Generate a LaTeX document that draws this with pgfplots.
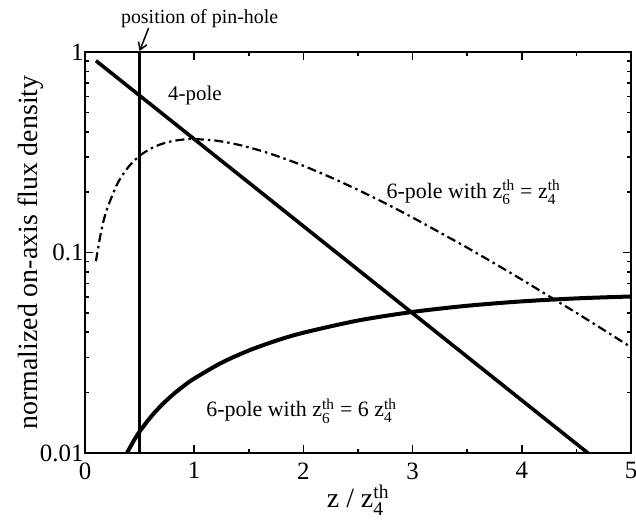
\documentclass[border=0pt]{standalone}
\usepackage{fontspec}
\setmainfont{Liberation Serif}
\usepackage{amsmath}
\usepackage{pgfplots}
\pgfplotsset{compat=1.18}
\usetikzlibrary{arrows.meta}
\newcommand{\zz}[1]{$\text{z}^{\text{th}}_{\text{#1}}$}

\begin{document}
\begin{tikzpicture}
\begin{axis}[
  scale only axis, width=546bp, height=401bp,
  xmin=0, xmax=5, ymin=0.01, ymax=1, ymode=log,
  clip mode=individual,
  xtick={0,1,2,3,4,5}, minor xtick={0.5,1.5,2.5,3.5,4.5},
  ytick={0.01,0.1,1}, yticklabels={0.01,0.1,1},
  minor ytick={0.02,0.03,0.04,0.05,0.06,0.07,0.08,0.09,0.2,0.3,0.4,0.5,0.6,0.7,0.8,0.9},
  tick align=inside, xtick pos=both, ytick pos=both,
  major tick length=8bp, minor tick length=4bp,
  axis line style={line width=2bp},
  every tick/.style={line width=1.6bp, black},
  tick label style={font=\fontsize{25}{27}\selectfont},
  /pgf/number format/assume math mode=true,
  xticklabel style={yshift=-6bp},
  yticklabel style={xshift=2bp},
  xlabel={z / \zz{4}}, ylabel={normalized on-axis flux density},
  label style={font=\fontsize{28}{30}\selectfont},
  xlabel style={yshift=1bp},
  ylabel style={yshift=-10bp},
]
% 4-pole: straight line on log scale
\addplot[black, line width=3.6bp] coordinates {(0.1,0.9048) (4.605,0.01)};
% 6-pole with z6 = z4 (dash-dot)
\addplot[black, line width=2.2bp, smooth, dash pattern=on 9bp off 4bp on 2.5bp off 4bp] coordinates {
(0.1,0.0905) (0.15,0.1291) (0.2,0.1637) (0.3,0.2222) (0.4,0.2681) (0.5,0.3033)
(0.6,0.3293) (0.7,0.3476) (0.8,0.3595) (0.9,0.3659) (1.0,0.3679) (1.2,0.3614)
(1.4,0.3452) (1.6,0.3230) (1.8,0.2975) (2.0,0.2707) (2.25,0.2371) (2.5,0.2052)
(2.75,0.1760) (3.0,0.1494) (3.25,0.1258) (3.5,0.1057) (3.75,0.0882) (4.0,0.0733)
(4.25,0.0605) (4.5,0.0500) (4.75,0.0411) (5.0,0.0337)};
% 6-pole with z6 = 6 z4 (thick solid)
\addplot[black, line width=4bp, smooth] coordinates {
(0.384,0.0100) (0.45,0.01160) (0.5,0.01278) (0.6,0.01508) (0.7,0.01730) (0.8,0.01945)
(0.9,0.02152) (1.0,0.02351) (1.25,0.02819) (1.5,0.03245) (1.75,0.03631) (2.0,0.03981)
(2.5,0.04578) (3.0,0.05054) (3.5,0.05425) (4.0,0.05705) (4.5,0.05904) (5.0,0.06036)};
% pin-hole position
\addplot[black, line width=2.4bp] coordinates {(0.5,0.01) (0.5,1)};

\node[anchor=west, font=\fontsize{21}{23}\selectfont] at (axis cs:0.73,0.61) {4-pole};
\node[anchor=west, font=\fontsize{22}{24}\selectfont] at (axis cs:2.73,0.2) {6-pole with \zz{6} = \zz{4}};
\node[anchor=west, font=\fontsize{22}{24}\selectfont] at (axis cs:1.08,0.0162) {6-pole with \zz{6} = 6 \zz{4}};
\node[font=\fontsize{20}{22}\selectfont] at ([yshift=33bp]axis cs:1.05,1) {position of pin-hole};
\draw[line width=1.5bp, -{Straight Barb[length=7bp,width=9bp]}] ([xshift=9bp,yshift=24bp]axis cs:0.5,1) -- ([yshift=1bp]axis cs:0.5,1);
\end{axis}
\pgfresetboundingbox
\useasboundingbox (-85bp,-69bp) rectangle (551bp,453bp);
\end{tikzpicture}
\end{document}
